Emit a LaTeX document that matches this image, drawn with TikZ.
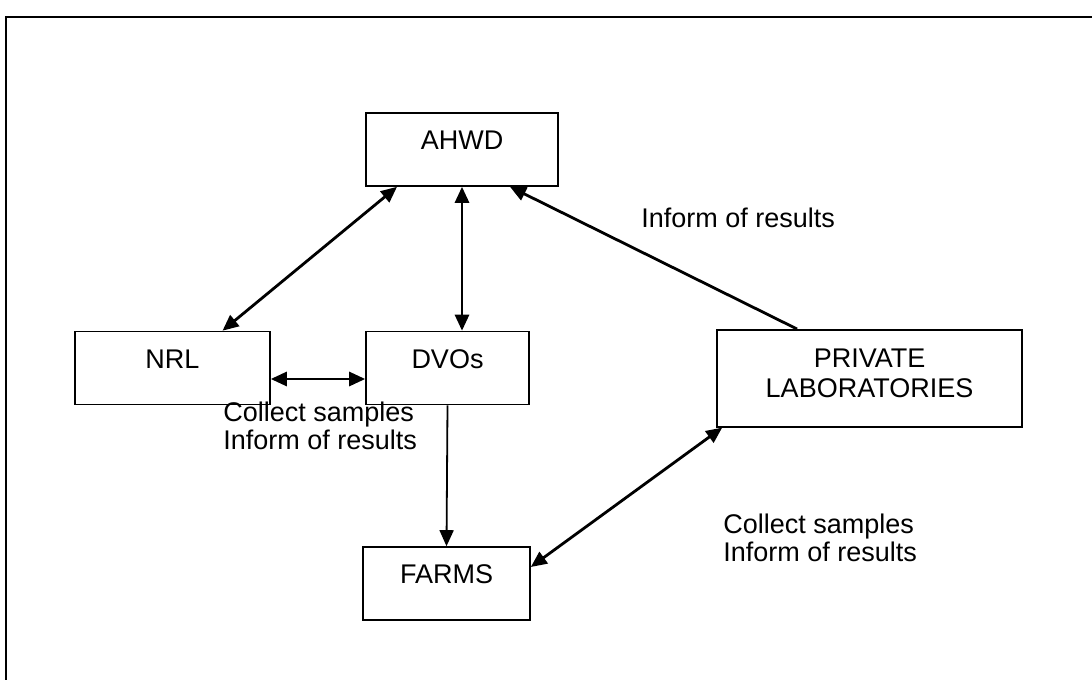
\documentclass[tikz,border=0pt]{standalone}
\usepackage{fontspec}
\setmainfont{Liberation Sans}
\usepackage{tikz}
\usetikzlibrary{arrows.meta}

\begin{document}
\begin{tikzpicture}[x = 0.5pt, y = -0.5pt, line width = 1.4pt,
    >={Triangle[length=8pt,width=7pt]},
    every node/.style = {font=\fontsize{13.5}{14}\selectfont},
    box/.style = {rectangle, draw, line width = 0.8pt, inner xsep = 0pt, inner ysep = 0pt, text height = 18.25pt, text depth = 18.25pt},
    note/.style = {anchor = base west, align = left, inner sep = 0pt}]
\useasboundingbox (0,0) rectangle (1092,680);
\draw[line width = 1pt] (1092,17) -- (6,17) -- (6,680);
\draw (462,149.5) node[box, minimum width = 96pt](a1){AHWD}
    (172.5,368) node[box, minimum width = 97.5pt](a2){NRL}
    (447.5,368) node[box, minimum width = 81.5pt](a3){DVOs}
    (869.5,329) node[box, anchor = north, minimum width = 152.5pt, align = center, text height = 33.75pt, text depth = 14.75pt, font = \fontsize{13.5}{15}\selectfont](a4){PRIVATE\\LABORATORIES}
    (446.5,583.5) node[box, minimum width = 83.5pt](a5){FARMS};
    \draw [<->] ([xshift=-32.5pt]a1.south) -- ([xshift=25pt]a2.north);
    \draw [<->] (a1.south) -- (a1.south |- a3.north);
    \draw [<->] ([yshift=-5.5pt]a2.east) -- ([yshift=-5.5pt]a3.west);
    \draw [->, line width = 0.9pt] (a3.south) -- (a5.north);
    \draw [->] ([xshift=-36.25pt]a4.north) -- ([xshift=24pt]a1.south);
    \draw [<->] ([xshift=3pt]a4.south west) -- ([yshift=8.25pt]a5.east);
\node[note] (l1) at (640,227.5) {Inform of results};
\node[note] (l2) at (222,449.5) {Collect samples\\Inform of results};
\node[note] (l3) at (722,561.5) {Collect samples\\Inform of results};
\end{tikzpicture}
\end{document}
